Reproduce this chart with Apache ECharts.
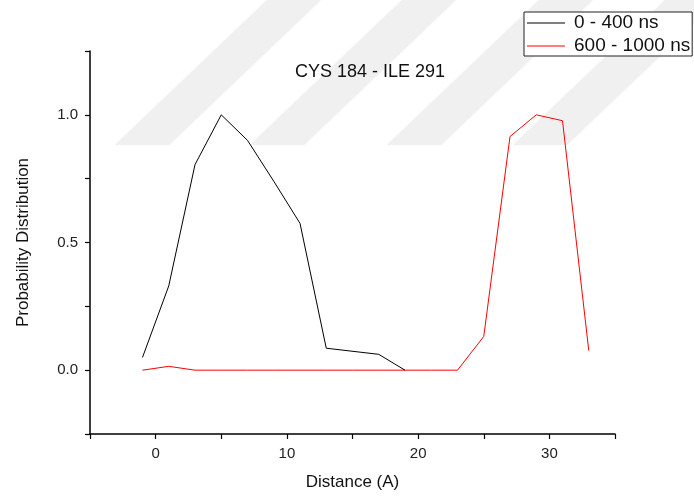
<!DOCTYPE html>
<html>
<head>
<meta charset="utf-8">
<script src="https://cdn.jsdelivr.net/npm/echarts@6/dist/echarts.min.js"></script>
<style>
  html, body { margin: 0; padding: 0; background: #fff; }
  #chart { width: 694px; height: 496px; }
</style>
</head>
<body>
<div id="chart"></div>
<script>
// Distance bins (Å) and normalised probabilities for the two time windows
const distanceEarly = [-1, 1, 3, 5, 7, 9, 11, 13, 17, 19];
const probEarly     = [0.05, 0.33, 0.805, 1.0, 0.90, 0.74, 0.575, 0.086, 0.062, 0.0];

const distanceLate = [-1, 1, 3, 5, 7, 9, 11, 13, 15, 17, 19, 21, 23, 25, 27, 29, 31, 33];
const probLate     = [0.0, 0.015, 0.0, 0.0, 0.0, 0.0, 0.0, 0.0, 0.0, 0.0, 0.0, 0.0, 0.0, 0.132, 0.915, 1.0, 0.977, 0.077];

const seriesNames = ['0 - 400 ns', '600 - 1000 ns'];
const titleText = 'CYS 184 - ILE 291';
const xName = 'Distance (A)';
const yName = 'Probability Distribution';

const FONT = '"Liberation Sans", Arial, sans-serif';

// light diagonal background bands
const bandBottoms = [115, 250, 387, 513];
const bands = bandBottoms.map(b => ({
  type: 'polygon',
  silent: true,
  z: -10,
  shape: { points: [[b, 145], [b + 54, 145], [b + 54 + 152, 0], [b + 152, 0]] },
  style: { fill: '#f0f0f0', shadowBlur: 3, shadowColor: 'rgba(0,0,0,0.04)' }
}));

const chart = echarts.init(document.getElementById('chart'), null, { renderer: 'canvas' });

chart.setOption({
  animation: false,
  backgroundColor: '#ffffff',
  graphic: bands,
  title: {
    text: titleText,
    left: 290,
    top: 58,
    textStyle: { fontFamily: FONT, fontSize: 18, fontWeight: 'normal', color: '#111' }
  },
  legend: {
    data: seriesNames.map(n => ({ name: n, icon: 'rect' })),
    orient: 'vertical',
    left: 524,
    top: 12,
    padding: [1, 2, 0, 3],
    itemGap: 3,
    itemWidth: 38,
    itemHeight: 1.2,
    borderColor: '#222',
    borderWidth: 1,
    backgroundColor: '#fff',
    textStyle: { fontFamily: FONT, fontSize: 19, color: '#111', padding: [0, 0, 0, 4], lineHeight: 20 }
  },
  grid: { left: 90, right: 79, top: 51, bottom: 59, containLabel: false },
  xAxis: {
    type: 'value',
    min: -5,
    max: 35,
    interval: 5,
    name: xName,
    nameLocation: 'middle',
    nameGap: 40,
    nameTextStyle: { fontFamily: FONT, fontSize: 17, color: '#111' },
    axisLine: { show: true, onZero: false, lineStyle: { color: '#000', width: 1.5 } },
    axisTick: { show: true, length: 5, lineStyle: { color: '#000', width: 1.2 } },
    axisLabel: {
      margin: 12,
      fontFamily: FONT,
      fontSize: 15,
      color: '#222',
      formatter: v => (Math.abs(v % 10) < 1e-9 && v >= 0 && v <= 30) ? String(v) : ''
    },
    splitLine: { show: false }
  },
  yAxis: {
    type: 'value',
    min: -0.25,
    max: 1.25,
    interval: 0.25,
    name: yName,
    nameLocation: 'middle',
    nameGap: 58,
    nameTextStyle: { fontFamily: FONT, fontSize: 17, color: '#111' },
    axisLine: { show: true, onZero: false, lineStyle: { color: '#000', width: 1.5 } },
    axisTick: { show: true, length: 5, lineStyle: { color: '#000', width: 1.2 } },
    axisLabel: {
      margin: 12,
      fontFamily: FONT,
      fontSize: 15,
      color: '#222',
      formatter: v => {
        const half = Math.round(v * 2) / 2;
        return (Math.abs(v - half) < 1e-9 && v > -0.01 && v < 1.01) ? v.toFixed(1) : '';
      }
    },
    splitLine: { show: false }
  },
  series: [
    {
      name: seriesNames[0],
      type: 'line',
      data: distanceEarly.map((d, i) => [d, probEarly[i]]),
      symbol: 'none',
      lineStyle: { color: '#000000', width: 1 },
      itemStyle: { color: '#000000' },
      z: 3
    },
    {
      name: seriesNames[1],
      type: 'line',
      data: distanceLate.map((d, i) => [d, probLate[i]]),
      symbol: 'none',
      lineStyle: { color: '#ff0000', width: 1 },
      itemStyle: { color: '#ff0000' },
      z: 2
    }
  ]
});
</script>
</body>
</html>
